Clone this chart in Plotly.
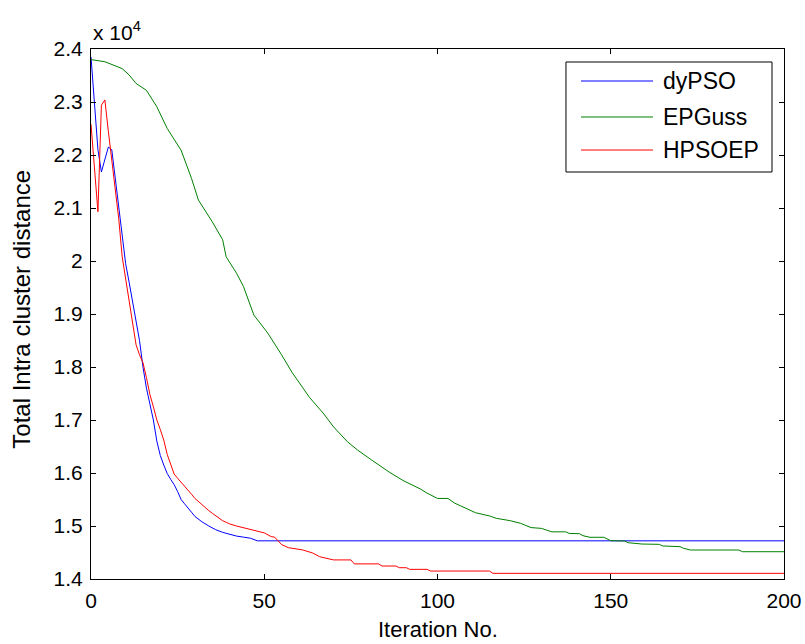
import plotly.graph_objects as go

# ---------------- data ----------------
dypso_iter = [0, 1, 2, 3, 4, 5, 6, 7, 8, 9, 10, 11, 12, 13, 14, 15, 16, 17, 18, 19,
              20, 21, 22, 23, 24, 25, 26, 27, 28, 29, 30, 32, 34, 36, 38, 40, 42, 44,
              46, 48, 200]
dypso_val = [23850, 22950, 22100, 21680, 21900, 22150, 22100, 21550, 20950, 20400,
             19950, 19600, 19250, 18900, 18500, 18000, 17600, 17300, 17000, 16600,
             16330, 16150, 15990, 15880, 15780, 15650, 15500, 15420, 15330, 15260,
             15180, 15080, 15000, 14930, 14880, 14840, 14810, 14790, 14770, 14720,
             14720]

epguss_iter = [0, 4, 9, 11, 13, 16, 19, 22, 26, 29, 31, 35, 38, 39, 42, 44, 47, 51, 55,
               58, 61, 63, 67, 70, 74, 77, 81, 86, 90, 92, 95, 97, 100, 103, 105, 111,
               115, 117, 121, 124, 127, 130, 133, 137, 138, 141, 142, 144, 148, 150,
               154, 155, 159, 164, 165, 170, 171, 173, 187, 188, 200]
epguss_val = [23800, 23760, 23630, 23510, 23350, 23220, 22910, 22500, 22090, 21560,
              21150, 20740, 20400, 20080, 19770, 19520, 18980, 18640, 18230, 17900,
              17620, 17430, 17130, 16870, 16590, 16430, 16245, 16020, 15860, 15800,
              15700, 15620, 15520, 15520, 15430, 15250, 15190, 15145, 15100, 15050,
              14970, 14955, 14890, 14890, 14860, 14855, 14817, 14787, 14787, 14723,
              14717, 14685, 14660, 14654, 14623, 14610, 14579, 14547, 14547, 14515,
              14515]

hpsoep_iter = [0, 1, 2, 3, 4, 5, 6, 7, 8, 9, 10, 11, 12, 13, 14, 15, 16, 17, 18, 19,
               20, 21, 22, 23, 24, 25, 26, 27, 28, 29, 30, 31, 32, 33, 34, 35, 36, 37,
               38, 39, 40, 42, 44, 46, 48, 50, 52, 53, 55, 57, 61, 64, 66, 70, 75, 76,
               83, 84, 88, 89, 91, 92, 97, 98, 115, 116, 200]
hpsoep_val = [22580, 21750, 20930, 22940, 23040, 22450, 21900, 21450, 20800, 20080,
              19650, 19300, 18850, 18420, 18230, 18080, 17800, 17480, 17250, 17000,
              16820, 16620, 16350, 16150, 15980, 15900, 15830, 15750, 15680, 15600,
              15520, 15460, 15400, 15340, 15290, 15240, 15190, 15140, 15100, 15070,
              15040, 15000, 14970, 14935, 14900, 14870, 14800, 14790, 14650, 14590,
              14550, 14490, 14420, 14360, 14360, 14285, 14285, 14245, 14245, 14213,
              14213, 14182, 14182, 14150, 14150, 14107, 14107]

series_names = ["dyPSO", "EPGuss", "HPSOEP"]
series_colors = ["#0000FF", "#008000", "#FF0000"]

x_ticks = [0, 50, 100, 150, 200]
y_tickvals = [14000, 15000, 16000, 17000, 18000, 19000, 20000, 21000, 22000, 23000, 24000]
y_ticktext = ["1.4", "1.5", "1.6", "1.7", "1.8", "1.9", "2", "2.1", "2.2", "2.3", "2.4"]

# ---------------- figure ----------------
FONT = "Liberation Sans, Arial, sans-serif"
fig = go.Figure()
xs = [dypso_iter, epguss_iter, hpsoep_iter]
ys = [dypso_val, epguss_val, hpsoep_val]
for name, color, x, y in zip(series_names, series_colors, xs, ys):
    fig.add_trace(go.Scatter(x=x, y=y, mode="lines", name=name,
                             line=dict(color=color, width=1), showlegend=False))

axis_common = dict(showline=True, linecolor="black", linewidth=1, mirror="ticks",
                   ticks="inside", ticklen=5, tickcolor="black", showgrid=False,
                   zeroline=False, automargin=False,
                   tickfont=dict(family=FONT, size=21, color="black"))

fig.update_xaxes(range=[0, 200], tickvals=x_ticks, ticklabelstandoff=3, **axis_common)
fig.update_yaxes(range=[14000, 24000], tickvals=y_tickvals, ticktext=y_ticktext,
                 ticklabelstandoff=3, **axis_common)

fig.update_layout(width=805, height=644, plot_bgcolor="white", paper_bgcolor="white",
                  margin=dict(l=91, r=21, t=49, b=65), showlegend=False)

# axis titles
fig.add_annotation(xref="paper", yref="paper", x=0.5, y=-0.0962, xanchor="center",
                   yanchor="middle", text="Iteration No.", showarrow=False,
                   font=dict(family=FONT, size=22, color="black"))
fig.add_annotation(xref="paper", yref="paper", x=-0.0996, y=0.51, xanchor="center",
                   yanchor="middle", text="Total Intra cluster distance", textangle=-90,
                   showarrow=False, font=dict(family=FONT, size=24, color="black"))

# exponent label
fig.add_annotation(xref="paper", yref="paper", x=0, y=1.034, xanchor="left", yanchor="middle",
                   text="x 10<sup>4</sup>", showarrow=False,
                   font=dict(family=FONT, size=21, color="black"))

# manual MATLAB-style legend
box = dict(x0=0.6854, x1=0.9827, y0=0.7679, y1=0.9755)
fig.add_shape(type="rect", xref="paper", yref="paper", line=dict(color="black", width=1),
              fillcolor="white", layer="above", **box)
leg_y = [0.9396, 0.8717, 0.8094]
for name, color, ly in zip(series_names, series_colors, leg_y):
    fig.add_shape(type="line", xref="paper", yref="paper", x0=0.7071, x1=0.811, y0=ly, y1=ly,
                  line=dict(color=color, width=1), layer="above")
    fig.add_annotation(xref="paper", yref="paper", x=0.8225, y=ly, xanchor="left",
                       yanchor="middle", text=name, showarrow=False,
                       font=dict(family=FONT, size=23, color="black"))

fig.write_html("out.html", config={"displayModeBar": False},
               post_script="document.body.style.margin='0px';"
                           "document.body.style.overflow='hidden';")
